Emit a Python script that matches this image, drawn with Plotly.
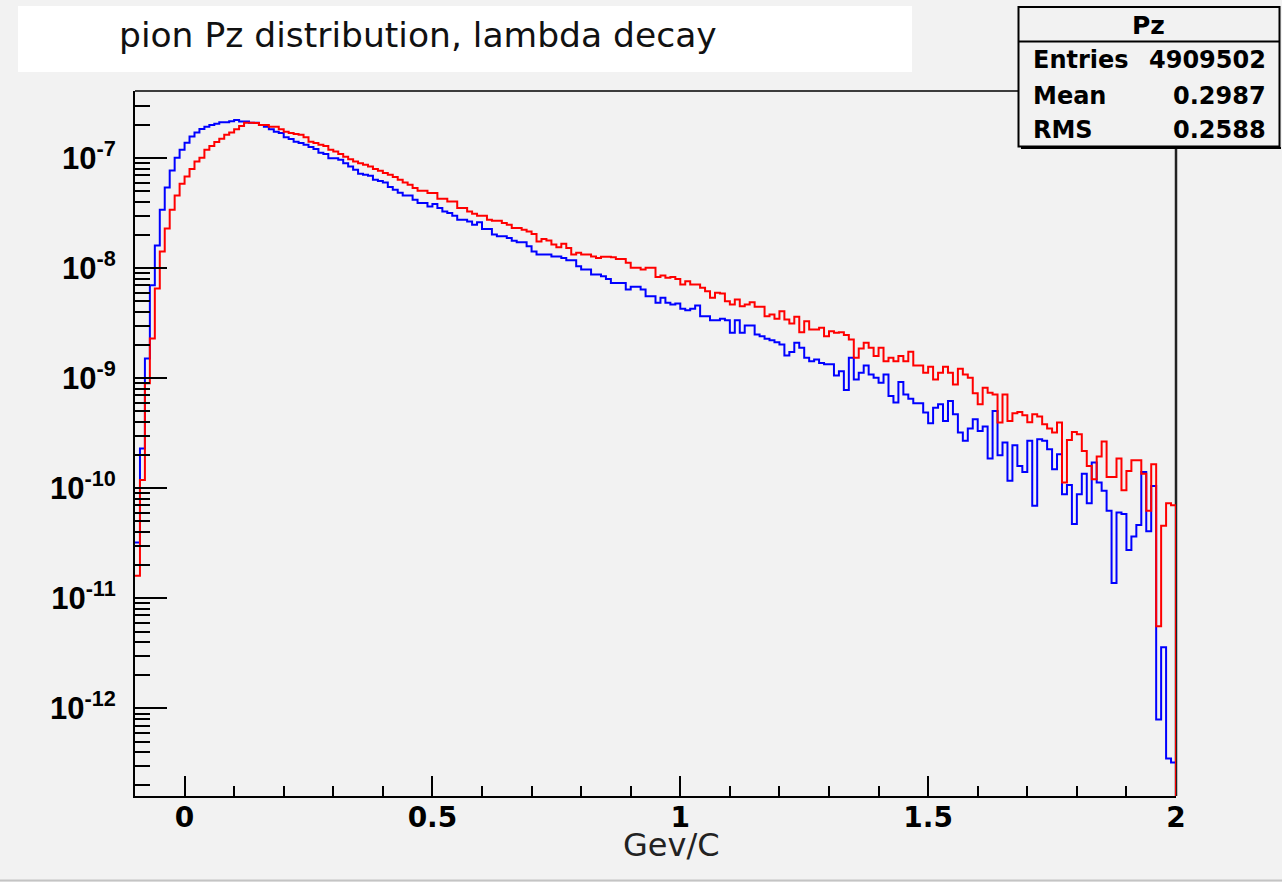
import numpy as np
import plotly.graph_objects as go

# ---------------- data ----------------
x_min, x_max, n_bins = -0.1, 2.0, 210

blue_counts = [
    3.23e-11, 2.30e-10, 1.51e-9, 7.00e-9, 1.61e-8, 3.40e-8, 5.41e-8, 7.72e-8, 1.01e-7, 1.19e-7,
    1.38e-7, 1.57e-7, 1.71e-7, 1.84e-7, 1.93e-7, 2.00e-7, 2.05e-7, 2.12e-7, 2.12e-7, 2.16e-7,
    2.22e-7, 2.15e-7, 2.15e-7, 2.10e-7, 2.10e-7, 2.00e-7, 1.93e-7, 1.83e-7, 1.74e-7, 1.69e-7,
    1.55e-7, 1.49e-7, 1.41e-7, 1.37e-7, 1.32e-7, 1.26e-7, 1.21e-7, 1.12e-7, 1.09e-7, 1.00e-7,
    1.00e-7, 9.65e-8, 9.01e-8, 8.39e-8, 7.83e-8, 7.20e-8, 7.06e-8, 6.91e-8, 6.36e-8, 6.19e-8,
    6.01e-8, 5.46e-8, 5.16e-8, 4.85e-8, 4.58e-8, 4.58e-8, 4.19e-8, 3.91e-8, 3.91e-8, 3.64e-8,
    3.83e-8, 3.52e-8, 3.28e-8, 3.17e-8, 3.00e-8, 2.76e-8, 2.76e-8, 2.66e-8, 2.48e-8, 2.61e-8,
    2.27e-8, 2.27e-8, 2.02e-8, 1.95e-8, 1.95e-8, 1.88e-8, 1.78e-8, 1.72e-8, 1.72e-8, 1.58e-8,
    1.42e-8, 1.33e-8, 1.33e-8, 1.33e-8, 1.28e-8, 1.28e-8, 1.24e-8, 1.18e-8, 1.18e-8, 1.04e-8,
    9.71e-9, 9.71e-9, 8.75e-9, 8.75e-9, 8.45e-9, 8.00e-9, 7.35e-9, 7.35e-9, 7.35e-9, 6.40e-9,
    6.77e-9, 6.77e-9, 6.40e-9, 5.56e-9, 5.56e-9, 4.85e-9, 5.38e-9, 4.85e-9, 4.68e-9, 4.78e-9,
    4.28e-9, 4.15e-9, 4.28e-9, 4.58e-9, 3.66e-9, 3.66e-9, 3.37e-9, 3.37e-9, 3.47e-9, 3.37e-9,
    2.59e-9, 3.37e-9, 2.59e-9, 3.02e-9, 3.02e-9, 2.50e-9, 2.41e-9, 2.29e-9, 2.22e-9, 2.13e-9,
    2.03e-9, 1.61e-9, 1.73e-9, 2.10e-9, 1.89e-9, 1.54e-9, 1.43e-9, 1.48e-9, 1.38e-9, 1.34e-9,
    1.34e-9, 1.06e-9, 1.16e-9, 7.82e-10, 1.54e-9, 9.77e-10, 1.12e-9, 1.31e-9, 1.08e-9, 1.01e-9,
    9.12e-10, 1.08e-9, 6.90e-10, 6.01e-10, 9.24e-10, 7.14e-10, 6.53e-10, 5.92e-10, 5.92e-10, 4.88e-10,
    3.90e-10, 5.41e-10, 5.80e-10, 4.09e-10, 6.21e-10, 4.71e-10, 3.21e-10, 2.70e-10, 3.49e-10, 4.24e-10,
    3.32e-10, 3.64e-10, 1.87e-10, 5.04e-10, 2.00e-10, 2.61e-10, 1.17e-10, 2.47e-10, 1.60e-10, 1.41e-10,
    2.70e-10, 6.94e-11, 2.79e-10, 2.70e-10, 2.27e-10, 1.49e-10, 2.04e-10, 8.86e-11, 1.07e-10, 4.74e-11,
    8.86e-11, 1.36e-10, 7.34e-11, 1.72e-10, 1.13e-10, 9.49e-11, 6.25e-11, 1.38e-11, 6.05e-11, 5.84e-11,
    2.75e-11, 3.66e-11, 4.64e-11, 1.41e-10, 4.07e-11, 1.05e-10, 7.96e-13, 3.61e-12, 3.51e-13, 3.23e-13,
]

red_counts = [
    1.61e-11, 1.19e-10, 8.99e-10, 2.30e-9, 6.53e-9, 1.42e-8, 2.29e-8, 3.40e-8, 4.58e-8, 5.85e-8,
    6.81e-8, 7.95e-8, 9.31e-8, 1.01e-7, 1.19e-7, 1.29e-7, 1.40e-7, 1.50e-7, 1.63e-7, 1.71e-7,
    1.83e-7, 1.96e-7, 2.10e-7, 2.10e-7, 2.09e-7, 2.00e-7, 2.00e-7, 1.93e-7, 1.93e-7, 1.83e-7,
    1.74e-7, 1.69e-7, 1.66e-7, 1.63e-7, 1.55e-7, 1.41e-7, 1.37e-7, 1.32e-7, 1.29e-7, 1.19e-7,
    1.15e-7, 1.09e-7, 1.03e-7, 9.79e-8, 9.31e-8, 9.01e-8, 8.70e-8, 8.39e-8, 7.95e-8, 7.67e-8,
    7.31e-8, 7.06e-8, 6.73e-8, 6.36e-8, 6.01e-8, 5.73e-8, 5.35e-8, 5.05e-8, 5.05e-8, 4.82e-8,
    4.82e-8, 4.28e-8, 4.28e-8, 4.04e-8, 4.04e-8, 3.52e-8, 3.52e-8, 3.28e-8, 3.13e-8, 3.00e-8,
    3.00e-8, 2.76e-8, 2.70e-8, 2.70e-8, 2.57e-8, 2.48e-8, 2.32e-8, 2.32e-8, 2.24e-8, 2.16e-8,
    2.05e-8, 1.75e-8, 1.84e-8, 1.79e-8, 1.64e-8, 1.55e-8, 1.67e-8, 1.53e-8, 1.33e-8, 1.38e-8,
    1.33e-8, 1.33e-8, 1.28e-8, 1.24e-8, 1.27e-8, 1.27e-8, 1.26e-8, 1.21e-8, 1.21e-8, 1.12e-8,
    1.01e-8, 1.01e-8, 9.71e-9, 1.01e-8, 1.01e-8, 8.34e-9, 8.57e-9, 8.17e-9, 8.34e-9, 8.00e-9,
    7.10e-9, 7.61e-9, 7.10e-9, 7.10e-9, 6.63e-9, 6.17e-9, 5.38e-9, 5.97e-9, 5.88e-9, 5.01e-9,
    4.68e-9, 5.19e-9, 4.51e-9, 4.68e-9, 4.91e-9, 4.46e-9, 4.46e-9, 3.66e-9, 3.80e-9, 3.47e-9,
    4.07e-9, 3.42e-9, 3.15e-9, 3.62e-9, 2.62e-9, 3.30e-9, 2.78e-9, 2.78e-9, 2.88e-9, 2.41e-9,
    2.68e-9, 2.59e-9, 2.62e-9, 2.47e-9, 2.25e-9, 1.54e-9, 1.86e-9, 2.10e-9, 1.89e-9, 1.59e-9,
    1.89e-9, 1.43e-9, 1.54e-9, 1.43e-9, 1.59e-9, 1.43e-9, 1.74e-9, 1.31e-9, 1.31e-9, 1.12e-9,
    1.27e-9, 9.77e-10, 1.12e-9, 1.27e-9, 1.12e-9, 8.80e-10, 1.22e-9, 1.08e-9, 1.01e-9, 7.30e-10,
    5.80e-10, 8.22e-10, 7.40e-10, 7.14e-10, 3.96e-10, 7.14e-10, 4.09e-10, 4.81e-10, 4.94e-10, 4.61e-10,
    3.98e-10, 4.71e-10, 4.49e-10, 3.82e-10, 3.49e-10, 3.21e-10, 3.96e-10, 1.13e-10, 2.75e-10, 3.25e-10,
    3.10e-10, 2.19e-10, 1.60e-10, 1.21e-10, 1.95e-10, 2.66e-10, 1.27e-10, 1.27e-10, 1.87e-10, 9.63e-11,
    1.44e-10, 1.80e-10, 1.80e-10, 1.36e-10, 6.25e-11, 1.66e-10, 5.60e-12, 4.57e-11, 7.34e-11, 7.04e-11,
]

x_tick_vals = [0, 0.5, 1, 1.5, 2]
x_tick_text = ["0", "0.5", "1", "1.5", "2"]
y_tick_vals = [1e-12, 1e-11, 1e-10, 1e-9, 1e-8, 1e-7]
y_tick_text = ["10<sup>-12</sup>", "10<sup>-11</sup>", "10<sup>-10</sup>",
               "10<sup>-9</sup>", "10<sup>-8</sup>", "10<sup>-7</sup>"]

title_text = "pion Pz distribution, lambda decay"
x_title = "Gev/C"
stats_name = "Pz"
stats_labels = ["Entries", "Mean", "RMS"]
stats_values = ["4909502", "0.2987", "0.2588"]

assert len(blue_counts) == n_bins and len(red_counts) == n_bins

# ---------------- figure ----------------
W, H = 1282, 882
L, R, T, B = 135, 106, 91, 86
BG = "#f2f2f2"
FONT = "DejaVu Sans"
FONT_NARROW = "Liberation Sans"

edges = np.linspace(x_min, x_max, n_bins + 1)
below_floor = 1e-16


def step_xy(vals):
    xs = list(edges[:-1]) + [x_max, x_max]
    ys = list(vals) + [vals[-1], below_floor]
    return xs, ys


def px(x):
    return (x - L) / (W - L - R)


def py(y):
    return (H - B - y) / (H - T - B)


fig = go.Figure()
for vals, col in [(blue_counts, "#0000ff"), (red_counts, "#ff0000")]:
    xs, ys = step_xy(vals)
    fig.add_trace(go.Scatter(x=xs, y=ys, mode="lines", line_shape="hv",
                             line=dict(color=col, width=2), hoverinfo="skip",
                             showlegend=False))

fig.update_layout(
    width=W, height=H, autosize=False,
    margin=dict(l=L, r=R, t=T, b=B, pad=0),
    paper_bgcolor=BG, plot_bgcolor=BG,
    showlegend=False,
    font=dict(family=FONT, color="black"),
)

fig.update_xaxes(
    range=[x_min, x_max], showgrid=False, zeroline=False,
    showline=True, linecolor="black", linewidth=2,
    ticks="inside", ticklen=20, tickwidth=2, tickcolor="black",
    tickmode="array", tickvals=x_tick_vals, ticktext=x_tick_text,
    tickfont=dict(family=FONT, size=28, weight="bold", color="black"),
    ticklabelstandoff=-5,
    minor=dict(tickmode="linear", tick0=0, dtick=0.1, ticks="inside",
               ticklen=10, tickwidth=1.5, tickcolor="black", showgrid=False),
)

fig.update_yaxes(
    type="log", range=[-12.795, -6.39], showgrid=False, zeroline=False,
    showline=True, linecolor="black", linewidth=2,
    ticks="inside", ticklen=32, tickwidth=2, tickcolor="black",
    tickmode="array", tickvals=y_tick_vals, ticktext=y_tick_text,
    tickfont=dict(family=FONT_NARROW, size=31, weight="bold", color="black"),
    ticklabelstandoff=11,
    minor=dict(tickmode="linear", dtick="D1", ticks="inside",
               ticklen=15, tickwidth=1.5, tickcolor="black", showgrid=False),
)

shapes = []
# frame top and right (drawn below the histograms like ROOT's TFrame)
shapes.append(dict(type="line", xref="paper", yref="paper", x0=0, x1=1, y0=1, y1=1,
                   line=dict(color="black", width=1.5), layer="below"))
shapes.append(dict(type="line", xref="paper", yref="paper", x0=1, x1=1, y0=0, y1=1,
                   line=dict(color="#222222", width=2.5), layer="below"))
# title pave
shapes.append(dict(type="rect", xref="paper", yref="paper",
                   x0=px(18), x1=px(912), y0=py(72), y1=py(6),
                   fillcolor="white", line=dict(width=0), layer="above"))
# stats box shadow + box + separator
shapes.append(dict(type="line", xref="paper", yref="paper",
                   x0=px(1021), x1=px(1281), y0=py(148), y1=py(148),
                   line=dict(color="black", width=2), layer="above"))
shapes.append(dict(type="rect", xref="paper", yref="paper",
                   x0=px(1018.5), x1=px(1279.5), y0=py(146.5), y1=py(7),
                   fillcolor=BG, line=dict(color="black", width=2), layer="above"))
shapes.append(dict(type="line", xref="paper", yref="paper",
                   x0=px(1018.5), x1=px(1279.5), y0=py(41.5), y1=py(41.5),
                   line=dict(color="black", width=2), layer="above"))
# canvas bottom border
shapes.append(dict(type="line", xref="paper", yref="paper",
                   x0=px(0), x1=px(W), y0=py(880.5), y1=py(880.5),
                   line=dict(color="#c4c4c4", width=2), layer="above"))
fig.update_layout(shapes=shapes)

ann = []
ann.append(dict(text=title_text, xref="paper", yref="paper", x=px(117), y=py(35),
                xanchor="left", yanchor="middle", showarrow=False,
                font=dict(family=FONT, size=34.5, color="#111111")))
ann.append(dict(text=x_title, xref="paper", yref="paper", x=px(671), y=py(845),
                xanchor="center", yanchor="middle", showarrow=False,
                font=dict(family=FONT, size=32, color="#222222")))
ann.append(dict(text=stats_name, xref="paper", yref="paper", x=px(1148), y=py(25),
                xanchor="center", yanchor="middle", showarrow=False,
                font=dict(family=FONT, size=25, weight="bold", color="black")))
row_y = [60, 96.5, 130]
for lab, val, yy in zip(stats_labels, stats_values, row_y):
    ann.append(dict(text=lab, xref="paper", yref="paper", x=px(1031), y=py(yy),
                    xanchor="left", yanchor="middle", showarrow=False,
                    font=dict(family=FONT, size=24, weight="bold", color="black")))
    ann.append(dict(text=val, xref="paper", yref="paper", x=px(1268), y=py(yy),
                    xanchor="right", yanchor="middle", showarrow=False,
                    font=dict(family=FONT, size=24, weight="bold", color="black")))
fig.update_layout(annotations=ann)

fig.write_html("out.html")
